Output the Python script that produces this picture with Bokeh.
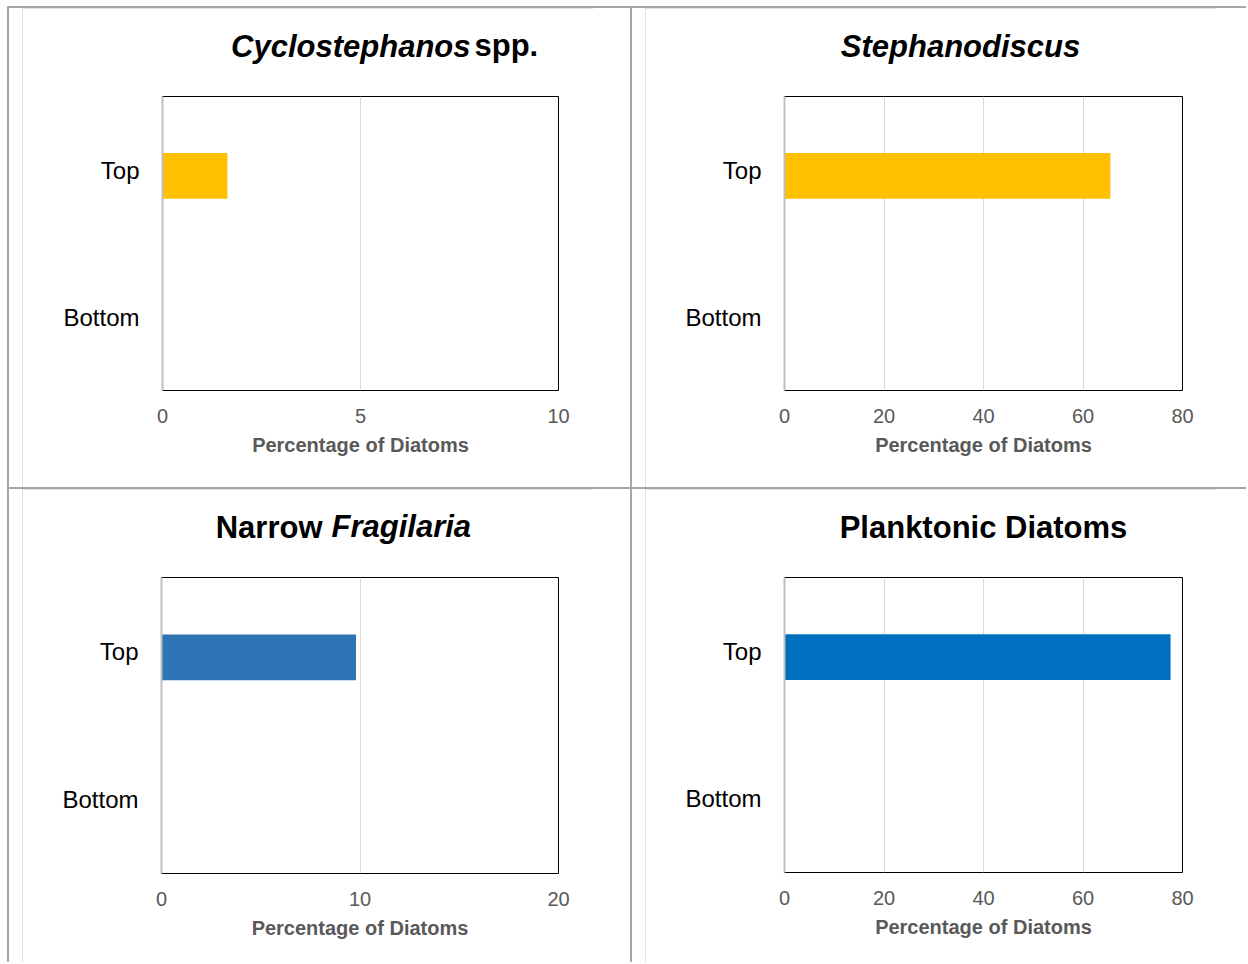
from bokeh.plotting import figure
from bokeh.layouts import column, row
from bokeh.models import Spacer, Label, FactorRange, Range1d, FixedTicker, ColumnDataSource
from bokeh.transform import dodge
from bokeh.embed import file_html
from bokeh.resources import INLINE

# ---- data ----
categories = ["Bottom", "Top"]
cyclo_values = [0, 1.64]
stephano_values = [0, 65.5]
fragilaria_values = [0, 9.8]
planktonic_values = [0, 77.6]
cyclo_ticks = [0, 5, 10]
stephano_ticks = [0, 20, 40, 60, 80]
fragilaria_ticks = [0, 10, 20]
planktonic_ticks = [0, 20, 40, 60, 80]
axis_title = "Percentage of Diatoms"

FONT = "Liberation Sans"
DARK = "#a6a6a6"


def chart(values, ticks, color, fw, fh, bl, br, bt, bb, titles):
    p = figure(
        y_range=FactorRange(factors=categories),
        x_range=Range1d(ticks[0], ticks[-1]),
        frame_width=fw, frame_height=fh,
        min_border_left=bl, min_border_right=br, min_border_top=bt, min_border_bottom=bb,
        output_backend="svg", toolbar_location=None,
        background_fill_color="white", border_fill_color="white",
        styles={"outline": "1px solid #d9d9d9", "outline-offset": "-1px"},
    )
    src = ColumnDataSource(dict(cat=categories, val=values))
    p.hbar(y=dodge("cat", -0.04, range=p.y_range), left=0, right="val", height=0.31,
           source=src, fill_color=color, line_color=None)

    p.outline_line_color = "black"
    p.outline_line_width = 1
    p.outline_line_alpha = 1.0

    p.xgrid.grid_line_color = "#d9d9d9"
    p.xgrid.grid_line_width = 1
    p.ygrid.grid_line_color = None

    xa = p.xaxis[0]
    xa.ticker = FixedTicker(ticks=ticks)
    xa.axis_line_color = None
    xa.major_tick_line_color = None
    xa.minor_tick_line_color = None
    xa.major_label_text_font = FONT
    xa.major_label_text_font_size = "20px"
    xa.major_label_text_color = "#595959"
    xa.major_label_standoff = 12
    xa.axis_label = axis_title
    xa.axis_label_text_font = FONT
    xa.axis_label_text_font_size = "20px"
    xa.axis_label_text_font_style = "bold"
    xa.axis_label_text_color = "#595959"
    xa.axis_label_standoff = 8

    ya = p.yaxis[0]
    ya.axis_line_color = "#bfbfbf"
    ya.axis_line_width = 2
    ya.major_tick_line_color = None
    ya.minor_tick_line_color = None
    ya.major_label_text_font = FONT
    ya.major_label_text_font_size = "24px"
    ya.major_label_text_color = "black"
    ya.major_label_standoff = 17

    for text, x, y, align, style in titles:
        p.add_layout(Label(x=x, y=y, x_units="screen", y_units="screen", text=text,
                           text_font=FONT, text_font_size="31px", text_font_style=style,
                           text_color="black", text_align=align, text_baseline="alphabetic"),
                     "above")
    return p


H1, H2 = 479, 473

p1 = chart(cyclo_values, cyclo_ticks, "#ffc000", 396, 294, 140, 35, 88, H1 - 88 - 294,
           [("Cyclostephanos", 308, 50, "right", "bold italic"),
            ("spp.", 312, 16, "left", "bold")])
p2 = chart(stephano_values, stephano_ticks, "#ffc000", 398, 294, 139, 34, 88, H1 - 88 - 294,
           [("Stephanodiscus", 176, 50, "center", "bold italic")])
p3 = chart(fragilaria_values, fragilaria_ticks, "#2e75b6", 397, 296, 139, 35, 87, H2 - 87 - 296,
           [("Narrow", 161, 50, "right", "bold"),
            ("Fragilaria", 170, 16, "left", "bold italic")])
p4 = chart(planktonic_values, planktonic_ticks, "#0070c0", 398, 295, 139, 34, 88, H2 - 88 - 295,
           [("Planktonic Diatoms", 199, 50, "center", "bold")])


def line(w, h):
    return Spacer(width=w, height=h, styles={"background-color": DARK})


def gap(w, h):
    return Spacer(width=w, height=h)


def table_row(a, b, h):
    return row(gap(7, h), line(2, h), gap(13, h), a, gap(37, h), line(2, h), gap(13, h), b, gap(30, h))


layout = column(
    gap(1240, 6),
    row(gap(7, 2), line(1239, 2)),
    table_row(p1, p2, H1),
    row(gap(7, 2), line(1239, 2)),
    table_row(p3, p4, H2),
)

open("out.html", "w").write(file_html(layout, INLINE))
